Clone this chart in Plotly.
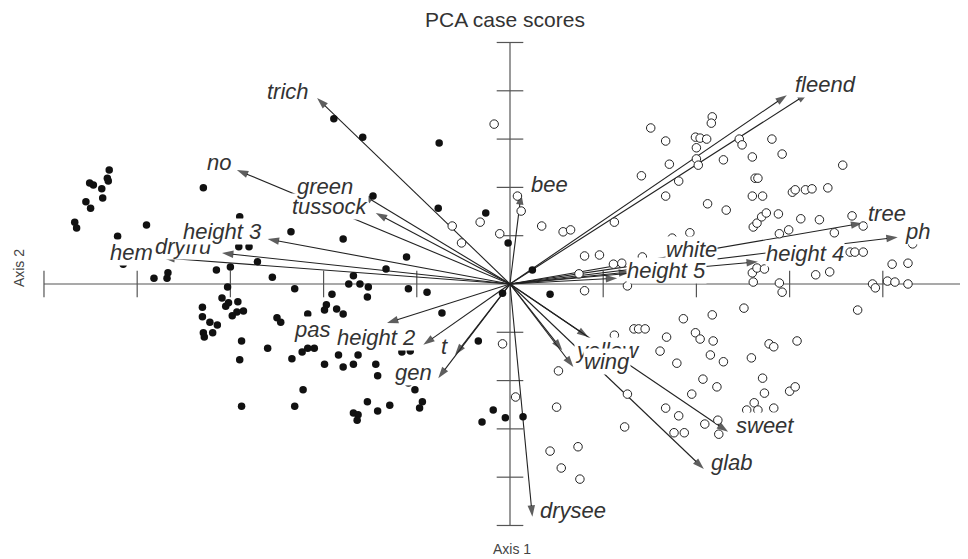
import plotly.graph_objects as go

# ---- case scores (group 1: filled dots) ----
filled_x = [-4.30,-4.51,-4.47,-4.32,-4.31,-4.38,-4.37,-4.55,-4.50,-4.67,
            -4.65,-3.29,-3.90,-4.21,-4.15,-2.90,-2.35,-2.91,-2.80,-2.71,
            -3.00,-3.15,-3.67,-3.68,-3.82,-2.55,-3.03,-2.31,-3.09,-2.92,
            -3.05,-3.02,-2.86,-2.93,-2.98,-3.30,-3.30,-3.22,-3.14,-3.19,
            -3.29,-3.28,-2.50,-2.46,-2.17,-2.88,-2.60,-2.90,-2.34,-2.23,
            -2.17,-2.10,-2.22,-2.88,-2.31,-1.89,-1.58,-0.76,-1.47,-0.77,
            -0.26,-0.02,-1.79,-1.11,-1.33,-1.68,-1.73,-1.61,-1.52,-1.91,
            -1.53,-1.09,-0.89,-1.97,-1.99,-1.86,-1.79,-0.73,-0.08,-0.34,
            -1.99,-1.84,-1.79,-1.68,-1.63,-1.44,-1.42,-1.16,-1.07,-1.02,
            -1.09,-1.53,-1.42,-1.29,-0.94,-0.97,-1.68,-1.63,-1.64,-0.30,
            -0.18,-0.05,0.14,0.24,0.43]
filled_y = [2.36,2.09,2.05,2.19,2.13,1.97,1.78,1.70,1.57,1.28,
            1.16,1.99,1.22,0.99,0.41,1.39,1.08,0.77,0.77,0.46,
            0.35,0.29,0.23,0.12,0.12,0.14,-0.06,-0.10,-0.29,-0.37,
            -0.46,-0.39,-0.56,-0.58,-0.66,-0.48,-0.68,-0.79,-0.85,-1.01,
            -1.01,-1.10,-0.70,-0.79,-0.62,-1.18,-1.33,-1.57,-1.55,-1.41,
            -1.33,-1.33,-2.19,-2.53,-2.53,3.42,3.04,2.92,1.82,1.57,
            1.47,0.85,0.93,0.56,0.31,0.17,0.00,0.00,-0.06,-0.21,
            -0.27,-0.10,-0.17,-0.43,-0.54,-0.52,-0.62,-0.60,-0.19,-1.18,
            -1.66,-1.47,-1.72,-1.66,-1.47,-1.66,-1.90,-1.41,-1.39,-2.19,
            -2.05,-2.44,-2.63,-2.51,-2.44,-2.57,-2.67,-2.71,-2.82,-2.86,
            -2.61,-2.77,-2.75,0.29,-0.21]

# ---- case scores (group 2: open circles) ----
open_x = [-0.17,-0.62,-0.52,-0.32,-0.11,0.08,0.12,-0.08,0.06,1.51,
          1.67,2.17,2.16,1.99,2.04,2.11,2.00,2.46,2.49,2.81,
          2.92,2.60,2.29,2.00,1.71,2.02,1.41,1.81,3.57,2.63,
          2.66,3.41,3.03,3.06,3.17,3.24,1.67,2.60,2.71,2.12,
          2.32,1.12,1.93,1.74,2.61,2.65,2.70,2.75,2.88,2.89,
          2.99,3.12,3.32,3.48,3.67,3.79,0.80,0.96,1.42,1.11,
          1.20,3.65,3.70,3.79,4.10,4.27,4.32,2.60,2.65,2.73,
          2.61,2.89,2.92,3.28,3.43,3.89,3.92,4.05,4.13,4.27,
          0.80,1.26,0.34,0.57,0.65,0.74,3.73,2.51,2.17,1.86,
          1.33,1.38,1.45,1.12,1.68,1.99,2.04,2.18,3.08,2.78,
          2.83,1.61,2.15,2.29,2.59,1.79,0.52,2.07,2.22,2.71,
          2.73,3.00,3.06,1.95,2.62,2.54,2.66,2.83,1.26,0.50,
          1.67,1.81,1.23,1.76,1.87,2.09,2.23,2.24,0.73,0.43,
          0.55,0.75]
open_y = [3.31,1.20,0.85,1.28,1.04,1.82,1.51,-1.24,-2.34,3.23,
          2.96,3.46,3.33,3.04,3.02,3.00,2.82,3.00,2.88,3.00,
          2.69,2.63,2.57,2.59,2.48,2.46,2.24,2.13,2.46,2.19,
          2.19,1.99,1.90,1.95,1.95,1.97,1.82,1.82,1.82,1.66,
          1.53,1.28,1.06,0.95,1.18,1.26,1.39,1.47,1.45,1.04,
          1.12,1.35,1.33,1.06,1.41,1.20,0.58,0.60,0.56,0.41,
          0.43,0.66,0.66,0.66,0.41,0.43,0.83,0.23,0.33,0.31,
          0.04,0.02,-0.17,0.19,0.25,0.00,-0.08,0.06,0.04,0.00,
          -0.14,-0.04,1.20,1.08,1.12,0.21,-0.54,-0.50,-0.64,-0.72,
          -0.93,-0.93,-0.93,-1.06,-1.10,-1.01,-1.14,-1.18,-1.18,-1.24,
          -1.30,-1.39,-1.47,-1.61,-1.53,-1.64,-1.80,-1.97,-2.13,-1.95,
          -2.26,-2.22,-2.13,-2.28,-2.46,-2.61,-2.61,-2.57,-2.28,-2.55,
          -2.57,-2.73,-2.96,-3.08,-3.08,-2.90,-2.82,-3.11,-3.37,-3.46,
          -3.81,-4.04]

# ---- variable vectors (label drawing order = list order) ----
vec_names = ["trich", "no", "tussock", "green", "dryfru", "hem", "height 3",
             "pas", "height 2", "t", "gen", "drysee", "glab", "sweet",
             "yellow", "", "wing", "", "fleend", "bee", "tree", "ph",
             "height 4", "", "height 5", "white"]
vec_x = [-2.07, -2.93, -1.44, -1.59, -3.09, -3.72, -2.60, -1.32, -0.93, -0.59,
         -0.77, 0.24, 2.08, 2.34, 0.84, 0.56, 0.68, 2.97, 3.20, 0.12, 3.78,
         4.16, 2.66, 1.29, 1.15, 1.61]
vec_y = [3.85, 2.36, 1.47, 1.86, 0.64, 0.54, 0.93, -0.81, -1.26, -1.47,
         -1.95, -4.82, -3.83, -3.06, -1.10, -1.37, -1.72, 3.91, 3.95, 1.88,
         1.26, 0.97, 0.46, 0.25, 0.12, 0.46]
lab_x = [-2.38, -3.12, -1.93, -1.99, -3.51, -4.06, -3.08, -2.12, -1.44, -0.70,
         -1.04, 0.68, 2.38, 2.74, 1.05, None, 1.04, None, 3.38, 0.42, 4.05,
         4.37, 3.17, None, 1.68, 1.95]
lab_y = [3.98, 2.51, 1.61, 2.01, 0.77, 0.66, 1.08, -0.95, -1.10, -1.30,
         -1.84, -4.68, -3.69, -2.92, -1.37, None, -1.61, None, 4.12, 2.07,
         1.45, 1.08, 0.64, None, 0.27, 0.71]

# ---- axes ----
x_axis_extent = [-5.0, 4.85]
y_axis_extent = [-5.0, 5.0]
x_ticks = [-5, -4, -3, -2, -1, 1, 2, 3, 4]
y_ticks = [-5, -4, -3, -2, -1, 1, 2, 3, 4, 5]

AXC = "#555555"
FONT = "Liberation Sans, Arial, sans-serif"
fig = go.Figure()

fig.add_trace(go.Scatter(x=x_axis_extent, y=[0, 0], mode="lines",
                         line=dict(color=AXC, width=1.2), hoverinfo="skip"))
fig.add_trace(go.Scatter(x=[0, 0], y=y_axis_extent, mode="lines",
                         line=dict(color=AXC, width=1.2), hoverinfo="skip"))
fig.add_trace(go.Scatter(x=x_ticks, y=[0] * len(x_ticks), mode="markers",
                         marker=dict(symbol="line-ns", size=19,
                                     line=dict(color=AXC, width=1.2)),
                         hoverinfo="skip"))
fig.add_trace(go.Scatter(x=[0] * len(y_ticks), y=y_ticks, mode="markers",
                         marker=dict(symbol="line-ew", size=19,
                                     line=dict(color=AXC, width=1.2)),
                         hoverinfo="skip"))

for vx, vy in zip(vec_x, vec_y):
    fig.add_trace(go.Scatter(
        x=[0, vx], y=[0, vy], mode="lines+markers",
        line=dict(color="#222222", width=1.1),
        marker=dict(symbol="arrow", size=[0, 12], angleref="previous",
                    color="#1a1a1a", line=dict(width=0)),
        hoverinfo="skip"))

fig.add_trace(go.Scatter(x=filled_x, y=filled_y, mode="markers",
                         marker=dict(symbol="circle", size=7.5, color="#111111",
                                     line=dict(width=0)),
                         hoverinfo="skip"))
fig.add_trace(go.Scatter(x=open_x, y=open_y, mode="markers",
                         marker=dict(symbol="circle", size=8.5, color="white",
                                     line=dict(color="#222222", width=1)),
                         hoverinfo="skip"))

annotations = []
for name, lx, ly in zip(vec_names, lab_x, lab_y):
    if not name:
        continue
    annotations.append(dict(
        x=lx, y=ly, xref="x", yref="y", text=name, showarrow=False,
        xanchor="center", yanchor="middle", bgcolor="white", borderpad=0,
        font=dict(family=FONT, size=22, color="#333333", style="italic")))

annotations.append(dict(x=0.518, y=0.980, xref="paper", yref="paper",
                        text="PCA case scores", showarrow=False,
                        xanchor="center", yanchor="middle",
                        font=dict(family=FONT, size=21, color="#333333")))
annotations.append(dict(x=0.525, y=0.018, xref="paper", yref="paper",
                        text="Axis 1", showarrow=False,
                        xanchor="center", yanchor="middle",
                        font=dict(family=FONT, size=14, color="#444444")))
annotations.append(dict(x=0.0115, y=0.528, xref="paper", yref="paper",
                        text="Axis 2", showarrow=False, textangle=-90,
                        xanchor="center", yanchor="middle",
                        font=dict(family=FONT, size=14, color="#444444")))

# the page body adds an 8 px margin, so the figure is 960x551 and
# the axis ranges are set so the chart lands where the reference has it
fig.update_layout(
    width=960, height=551,
    margin=dict(l=0, r=0, t=0, b=0),
    paper_bgcolor="white", plot_bgcolor="white",
    showlegend=False, hovermode=False,
    xaxis=dict(range=[-5.386, 4.914], visible=False, fixedrange=True),
    yaxis=dict(range=[-5.694, 5.714], visible=False, fixedrange=True),
    annotations=annotations,
)

fig.write_html("out.html")
